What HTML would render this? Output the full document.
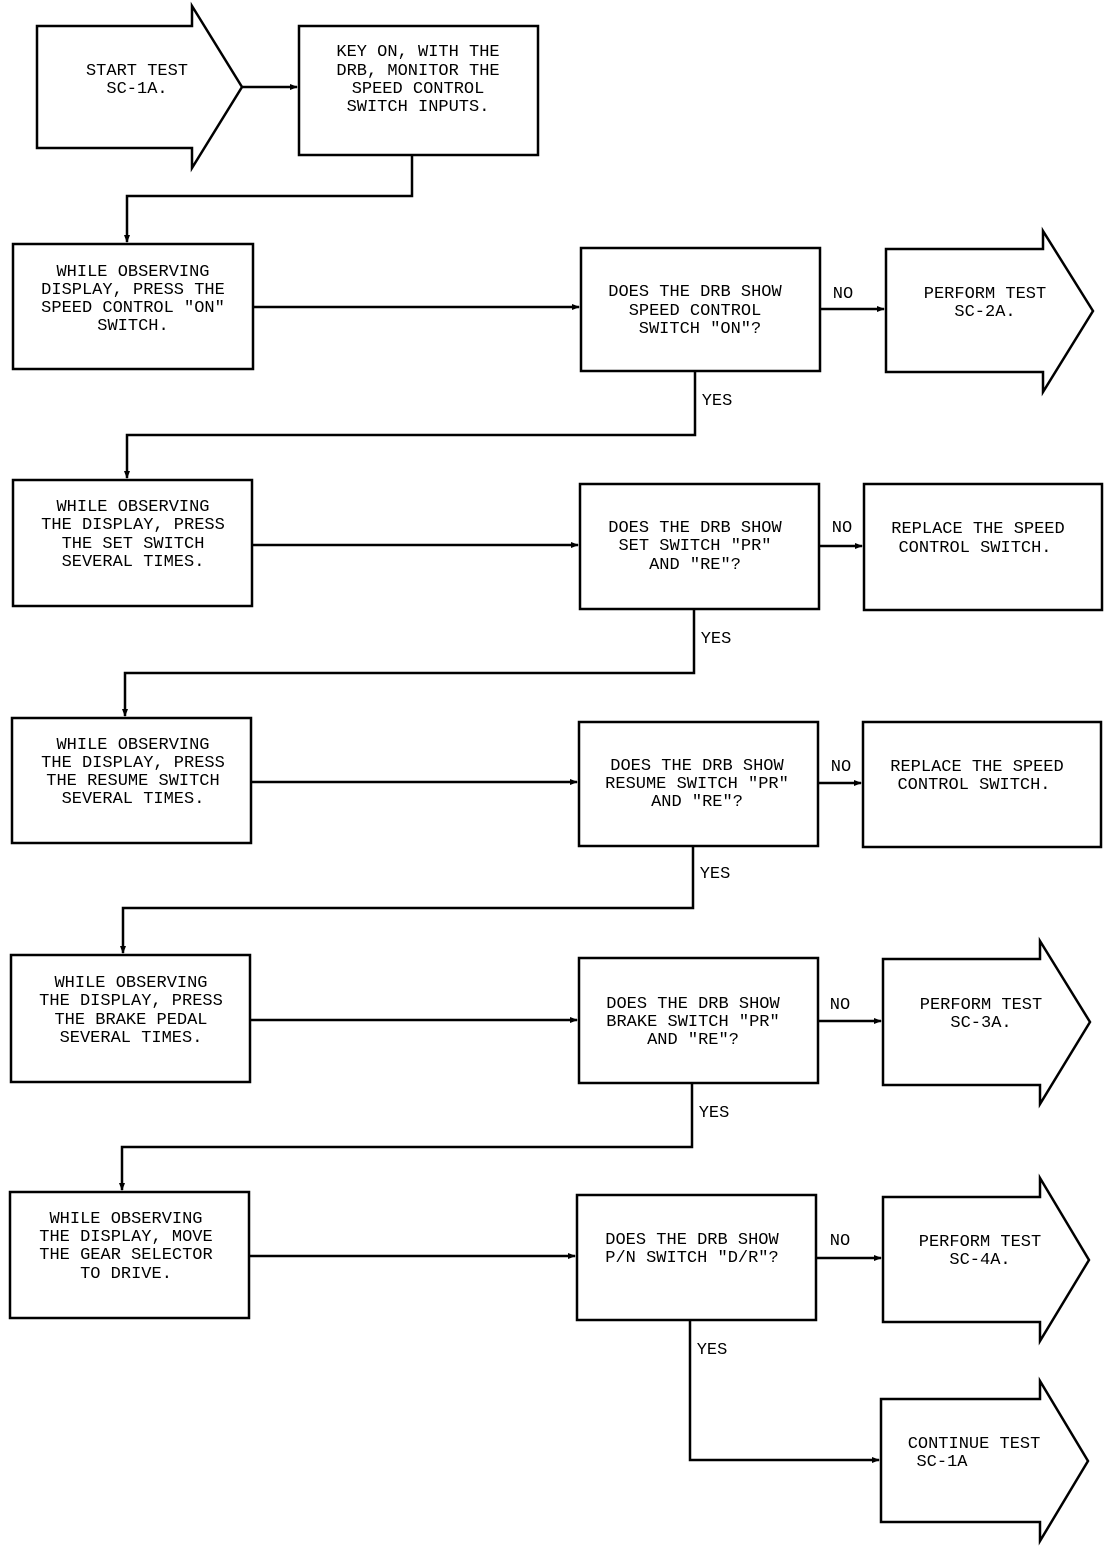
<!DOCTYPE html>
<html><head><meta charset="utf-8"><style>html,body{margin:0;padding:0;background:#fff}svg{display:block}text{font-family:"Liberation Mono",monospace;font-size:17px;fill:#000;text-anchor:middle}</style></head><body>
<svg width="1120" height="1550" viewBox="0 0 1120 1550" xmlns="http://www.w3.org/2000/svg">
<defs><marker id="a" markerWidth="8" markerHeight="8" refX="7" refY="4" orient="auto" markerUnits="userSpaceOnUse"><path d="M0,1 L8,4 L0,7 z" fill="#000"/></marker></defs>
<g fill="none" stroke="#000" stroke-width="2.5">
<path d="M37,26 L192,26 L192,6 L242,87 L192,168 L192,148 L37,148 Z"/>
<rect x="299" y="26" width="239" height="129"/>
<line x1="242" y1="87" x2="297" y2="87" marker-end="url(#a)"/>
<polyline points="412,155 412,196 127,196 127,242" marker-end="url(#a)"/>
<rect x="13" y="244" width="240" height="125"/>
<line x1="253" y1="307" x2="579" y2="307" marker-end="url(#a)"/>
<rect x="581" y="248" width="239" height="123"/>
<line x1="820" y1="309" x2="884" y2="309" marker-end="url(#a)"/>
<path d="M886,249 L1043,249 L1043,231 L1093,311 L1043,392 L1043,372 L886,372 Z"/>
<polyline points="695,371 695,435 127,435 127,478" marker-end="url(#a)"/>
<rect x="13" y="480" width="239" height="126"/>
<line x1="252" y1="545" x2="578" y2="545" marker-end="url(#a)"/>
<rect x="580" y="484" width="239" height="125"/>
<line x1="819" y1="546" x2="862" y2="546" marker-end="url(#a)"/>
<rect x="864" y="484" width="238" height="126"/>
<polyline points="694,609 694,673 125,673 125,716" marker-end="url(#a)"/>
<rect x="12" y="718" width="239" height="125"/>
<line x1="251" y1="782" x2="577" y2="782" marker-end="url(#a)"/>
<rect x="579" y="722" width="239" height="124"/>
<line x1="818" y1="783" x2="861" y2="783" marker-end="url(#a)"/>
<rect x="863" y="722" width="238" height="125"/>
<polyline points="693,846 693,908 123,908 123,953" marker-end="url(#a)"/>
<rect x="11" y="955" width="239" height="127"/>
<line x1="250" y1="1020" x2="577" y2="1020" marker-end="url(#a)"/>
<rect x="579" y="958" width="239" height="125"/>
<line x1="818" y1="1021" x2="881" y2="1021" marker-end="url(#a)"/>
<path d="M883,959 L1040,959 L1040,941 L1090,1022 L1040,1104 L1040,1085 L883,1085 Z"/>
<polyline points="692,1083 692,1147 122,1147 122,1190" marker-end="url(#a)"/>
<rect x="10" y="1192" width="239" height="126"/>
<line x1="249" y1="1256" x2="575" y2="1256" marker-end="url(#a)"/>
<rect x="577" y="1195" width="239" height="125"/>
<line x1="816" y1="1258" x2="881" y2="1258" marker-end="url(#a)"/>
<path d="M883,1197 L1040,1197 L1040,1178 L1089,1260 L1040,1341 L1040,1322 L883,1322 Z"/>
<polyline points="690,1320 690,1460 879,1460" marker-end="url(#a)"/>
<path d="M881,1399 L1040,1399 L1040,1381 L1088,1461 L1040,1541 L1040,1522 L881,1522 Z"/>
</g>
<text x="137" y="75">START TEST</text><text x="137" y="93">SC-1A.</text>
<text x="418" y="56">KEY ON, WITH THE</text><text x="418" y="75">DRB, MONITOR THE</text><text x="418" y="93">SPEED CONTROL</text><text x="418" y="111">SWITCH INPUTS.</text>
<text x="133" y="276">WHILE OBSERVING</text><text x="133" y="294">DISPLAY, PRESS THE</text><text x="133" y="312">SPEED CONTROL "ON"</text><text x="133" y="330">SWITCH.</text>
<text x="695" y="296">DOES THE DRB SHOW</text><text x="695" y="315">SPEED CONTROL</text><text x="700" y="333">SWITCH "ON"?</text>
<text x="843" y="298">NO</text>
<text x="985" y="298">PERFORM TEST</text><text x="985" y="316">SC-2A.</text>
<text x="717" y="405">YES</text>
<text x="133" y="511">WHILE OBSERVING</text><text x="133" y="529">THE DISPLAY, PRESS</text><text x="133" y="548">THE SET SWITCH</text><text x="133" y="566">SEVERAL TIMES.</text>
<text x="695" y="532">DOES THE DRB SHOW</text><text x="695" y="550">SET SWITCH "PR"</text><text x="695" y="569">AND "RE"?</text>
<text x="842" y="532">NO</text>
<text x="978" y="533">REPLACE THE SPEED</text><text x="975" y="552">CONTROL SWITCH.</text>
<text x="716" y="643">YES</text>
<text x="133" y="749">WHILE OBSERVING</text><text x="133" y="767">THE DISPLAY, PRESS</text><text x="133" y="785">THE RESUME SWITCH</text><text x="133" y="803">SEVERAL TIMES.</text>
<text x="697" y="770">DOES THE DRB SHOW</text><text x="697" y="788">RESUME SWITCH "PR"</text><text x="697" y="806">AND "RE"?</text>
<text x="841" y="771">NO</text>
<text x="977" y="771">REPLACE THE SPEED</text><text x="974" y="789">CONTROL SWITCH.</text>
<text x="715" y="878">YES</text>
<text x="131" y="987">WHILE OBSERVING</text><text x="131" y="1005">THE DISPLAY, PRESS</text><text x="131" y="1024">THE BRAKE PEDAL</text><text x="131" y="1042">SEVERAL TIMES.</text>
<text x="693" y="1008">DOES THE DRB SHOW</text><text x="693" y="1026">BRAKE SWITCH "PR"</text><text x="693" y="1044">AND "RE"?</text>
<text x="840" y="1009">NO</text>
<text x="981" y="1009">PERFORM TEST</text><text x="981" y="1027">SC-3A.</text>
<text x="714" y="1117">YES</text>
<text x="126" y="1223">WHILE OBSERVING</text><text x="126" y="1241">THE DISPLAY, MOVE</text><text x="126" y="1259">THE GEAR SELECTOR</text><text x="126" y="1278">TO DRIVE.</text>
<text x="692" y="1244">DOES THE DRB SHOW</text><text x="692" y="1262">P/N SWITCH "D/R"?</text>
<text x="840" y="1245">NO</text>
<text x="980" y="1246">PERFORM TEST</text><text x="980" y="1264">SC-4A.</text>
<text x="712" y="1354">YES</text>
<text x="974" y="1448">CONTINUE TEST</text><text x="942" y="1466">SC-1A</text>
</svg>
</body></html>
